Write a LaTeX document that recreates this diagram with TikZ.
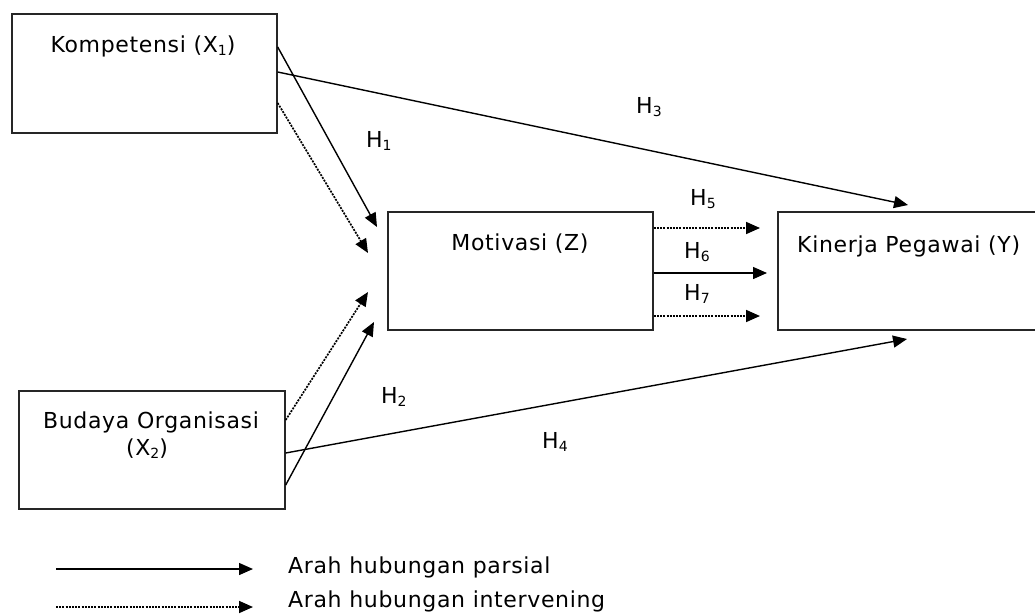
\documentclass[tikz,border=0pt]{standalone}
\usepackage{fontspec}
\setmainfont{DejaVu Sans}[LetterSpace=3]
\usetikzlibrary{arrows.meta}
\newcommand{\subtxt}[1]{\raisebox{-0.28ex}{\fontsize{14}{14}\selectfont #1}}
\tikzset{
  box/.style={draw, line width=1.4pt, inner sep=0pt, draw=black!85},
  txt/.style={inner sep=0pt, font=\fontsize{22}{26}\selectfont, text=black},
  con/.style={line width=1.4pt, -{Triangle[length=14pt,width=12pt]}},
  dotcon/.style={con, line width=1.7pt, dash pattern=on 2pt off 1.2pt},
}
\begin{document}
\begin{tikzpicture}[x=1pt,y=-1pt]
\useasboundingbox (0,0) rectangle (1035,613);
\clip (0,0) rectangle (1035,613);
\fill[white] (0,0) rectangle (1035,613);
% boxes
\node[box, minimum width=265pt, minimum height=119pt] (x1) at (144.5,73.5) {};
\node[box, minimum width=265pt, minimum height=118pt] (mot) at (520.5,271) {};
\node[box, minimum width=262pt, minimum height=118pt] (kin) at (909,271) {};
\node[box, minimum width=266pt, minimum height=118pt] (bud) at (152,450) {};
% box texts
\node[txt, anchor=base] (tx1) at (143,52) {Kompetensi (X\subtxt{1})};
\node[txt, anchor=base] (tmot) at (520,250) {Motivasi (Z)};
\node[txt, anchor=base west] (tkin) at (797,252) {Kinerja Pegawai (Y)};
\node[txt, anchor=base] (tbud) at (151,428) {Budaya Organisasi};
\node[txt, anchor=base] (tbud2) at (147,455) {(X\subtxt{2})};
% free ends
\coordinate (e1) at (377,227);
\coordinate (e1d) at (368,253);
\coordinate (e2d) at (368,292);
\coordinate (e2) at (374,322);
\coordinate (e3) at (908,205);
\coordinate (e4) at (907,339);
\coordinate (e5) at (760,228);
\coordinate (e6) at (767,273);
\coordinate (e7) at (760,316);
% connectors
\draw[con] (x1.east |- 0,47) -- (e1);
\draw[dotcon] (x1.east |- 0,103) -- (e1d);
\draw[con] (x1.east |- 0,72) -- (e3);
\draw[dotcon] (bud.east |- 0,420) -- (e2d);
\draw[con] (bud.east |- 0,485) -- (e2);
\draw[con] (bud.east |- 0,453) -- (e4);
\draw[dotcon] (mot.east |- 0,228) -- (e5);
\draw[con] (mot.east |- 0,273) -- (e6);
\draw[dotcon] (mot.east |- 0,316) -- (e7);
% labels
\node[txt, anchor=base west] (h1) at (366,147) {H\subtxt{1}};
\node[txt, anchor=base west] (h2) at (381,403) {H\subtxt{2}};
\node[txt, anchor=base west] (h3) at (636,113) {H\subtxt{3}};
\node[txt, anchor=base west] (h4) at (542,448) {H\subtxt{4}};
\node[txt, anchor=base west] (h5) at (690,205) {H\subtxt{5}};
\node[txt, anchor=base west] (h6) at (684,258) {H\subtxt{6}};
\node[txt, anchor=base west] (h7) at (684,300) {H\subtxt{7}};
% legend
\coordinate (l1s) at (56,569);
\coordinate (l1e) at (253,569);
\coordinate (l2s) at (56,607);
\coordinate (l2e) at (253,607);
\draw[con] (l1s) -- (l1e);
\draw[dotcon] (l2s) -- (l2e);
\node[txt, anchor=base west] (lg1) at (288,573) {Arah hubungan parsial};
\node[txt, anchor=base west] (lg2) at (288,607) {Arah hubungan intervening};
\end{tikzpicture}
\end{document}
